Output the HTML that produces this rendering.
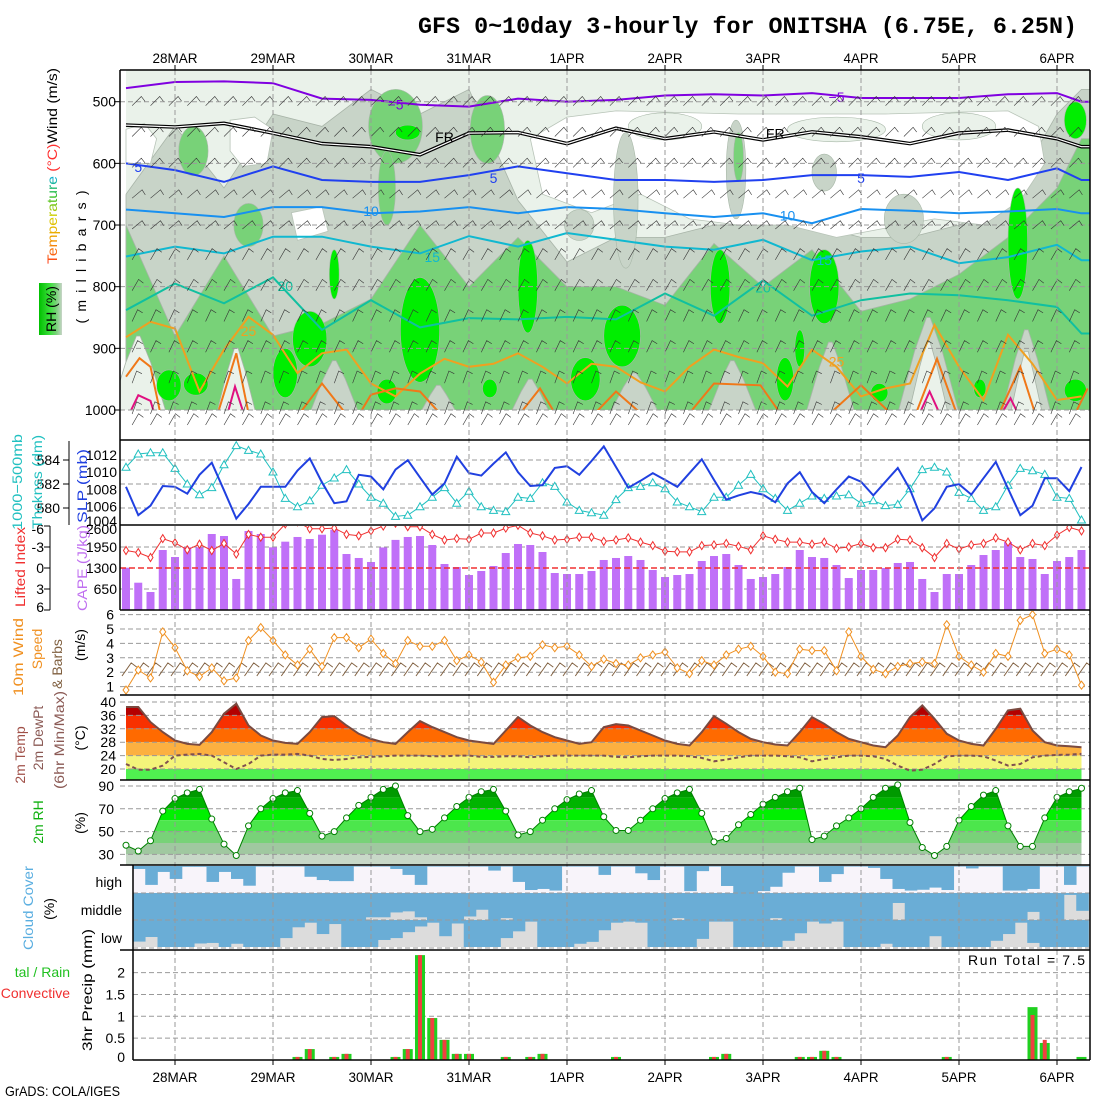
<!DOCTYPE html>
<html><head><meta charset="utf-8"><title>GFS meteogram ONITSHA</title>
<style>
html,body{margin:0;padding:0;background:#fff;}
svg{display:block;}
.t{font-family:"Liberation Sans",sans-serif;font-size:14px;}
.mono{font-family:"Liberation Mono",monospace;}
</style></head>
<body>
<svg id="chart" width="1100" height="1100" viewBox="0 0 1100 1100" xmlns="http://www.w3.org/2000/svg">
<defs>
<linearGradient id="tempGrad" gradientUnits="userSpaceOnUse" x1="-98" y1="0" x2="-12" y2="0">
<stop offset="0" stop-color="#ff4020"/><stop offset="0.3" stop-color="#f0a000"/><stop offset="0.55" stop-color="#d8d000"/><stop offset="0.8" stop-color="#30c030"/><stop offset="1" stop-color="#10b0d0"/>
</linearGradient>
<linearGradient id="rhGrad" x1="0" y1="0" x2="1" y2="0">
<stop offset="0" stop-color="#00c000"/><stop offset="0.5" stop-color="#40e040"/><stop offset="0.75" stop-color="#78d278"/><stop offset="1" stop-color="#c8d4c8"/>
</linearGradient>
<clipPath id="topClip"><rect x="120" y="70" width="970" height="340"/></clipPath>
<clipPath id="p2Clip"><rect x="120" y="441" width="970" height="84"/></clipPath>
<clipPath id="p3Clip"><rect x="120" y="526" width="970" height="84"/></clipPath>
<clipPath id="p4Clip"><rect x="120" y="611" width="970" height="84"/></clipPath>
</defs>
<rect x="0" y="0" width="1100" height="1100" fill="#fff"/>

<text class="mono" x="418" y="33" font-size="23" font-weight="bold" textLength="659" lengthAdjust="spacingAndGlyphs">GFS 0~10day 3-hourly for ONITSHA (6.75E, 6.25N)</text>

<g id="topPanel"></g>
<g id="panels"></g>

<g>
<text class="t" transform="translate(57,166) rotate(-90)" text-anchor="middle" font-size="15" textLength="196" lengthAdjust="spacingAndGlyphs"><tspan fill="url(#tempGrad)">Temperature</tspan><tspan fill="#ff3030"> (°C)</tspan><tspan fill="#000">Wind (m/s)</tspan></text>
<rect x="39" y="283" width="23" height="52" fill="url(#rhGrad)"/>
<text class="t" transform="translate(56,309) rotate(-90)" text-anchor="middle" font-size="14">RH (%)</text>
<text class="t" transform="translate(86,257) rotate(-90)" text-anchor="middle" font-size="15" textLength="133" lengthAdjust="spacing">(millibars)</text>
</g>
<g>
<text class="t" transform="translate(22,482) rotate(-90)" text-anchor="middle" fill="#20c0c0" font-size="15" textLength="96" lengthAdjust="spacingAndGlyphs">1000−500mb</text>
<text class="t" transform="translate(42,482) rotate(-90)" text-anchor="middle" fill="#20c0c0" font-size="15" textLength="94" lengthAdjust="spacingAndGlyphs">Thcknss (dm)</text>
<text class="t" transform="translate(87,486) rotate(-90)" text-anchor="middle" fill="#2040e0" font-size="15" textLength="74" lengthAdjust="spacingAndGlyphs">SLP (mb)</text>
<text class="t" transform="translate(25,567) rotate(-90)" text-anchor="middle" fill="#f03030" font-size="15" textLength="80" lengthAdjust="spacingAndGlyphs">Lifted Index</text>
<text class="t" transform="translate(87,568) rotate(-90)" text-anchor="middle" fill="#c070f0" font-size="15" textLength="86" lengthAdjust="spacingAndGlyphs">CAPE (J/kg)</text>
<text class="t" transform="translate(23,657) rotate(-90)" text-anchor="middle" fill="#f09020" font-size="15" textLength="78" lengthAdjust="spacingAndGlyphs">10m Wind</text>
<text class="t" transform="translate(42,649) rotate(-90)" text-anchor="middle" fill="#f09020" font-size="15">Speed</text>
<text class="t" transform="translate(62,664) rotate(-90)" text-anchor="middle" fill="#806040" font-size="15">&amp; Barbs</text>
<text class="t" transform="translate(85,645) rotate(-90)" text-anchor="middle" fill="#000" font-size="15">(m/s)</text>
<text class="t" transform="translate(25,755) rotate(-90)" text-anchor="middle" fill="#a05048" font-size="15">2m Temp</text>
<text class="t" transform="translate(43,738) rotate(-90)" text-anchor="middle" fill="#8b5a55" font-size="15">2m DewPt</text>
<text class="t" transform="translate(64,740) rotate(-90)" text-anchor="middle" fill="#8b5a55" font-size="15" textLength="98" lengthAdjust="spacingAndGlyphs">(6hr Min/Max)</text>
<text class="t" transform="translate(85,738) rotate(-90)" text-anchor="middle" fill="#000" font-size="15">(°C)</text>
<text class="t" transform="translate(43,822) rotate(-90)" text-anchor="middle" fill="#10b010" font-size="15">2m RH</text>
<text class="t" transform="translate(85,823) rotate(-90)" text-anchor="middle" fill="#000" font-size="15">(%)</text>
<text class="t" transform="translate(33,908) rotate(-90)" text-anchor="middle" fill="#5aaee0" font-size="15" textLength="84" lengthAdjust="spacingAndGlyphs">Cloud Cover</text>
<text class="t" transform="translate(54,909) rotate(-90)" text-anchor="middle" fill="#000" font-size="15">(%)</text>
<text class="t" x="122" y="887" text-anchor="end" font-size="15">high</text>
<text class="t" x="122" y="915" text-anchor="end" font-size="15">middle</text>
<text class="t" x="122" y="943" text-anchor="end" font-size="15">low</text>
<text class="t" x="70" y="977" text-anchor="end" fill="#20c020" font-size="15">tal / Rain</text>
<text class="t" x="70" y="998" text-anchor="end" fill="#f03030" font-size="15">Convective</text>
<text class="t" transform="translate(92,990) rotate(-90)" text-anchor="middle" fill="#000" font-size="15" textLength="122" lengthAdjust="spacingAndGlyphs">3hr Precip (mm)</text>
<text class="t" x="1085" y="965" text-anchor="end" font-size="14" textLength="117" lengthAdjust="spacing">Run Total = 7.5</text>
<text class="t" x="5" y="1096" font-size="13" textLength="115" lengthAdjust="spacingAndGlyphs">GrADS: COLA/IGES</text>
</g>
</svg>

<script>
// ---------- DATA ----------
const dayLabels=["28MAR","29MAR","30MAR","31MAR","1APR","2APR","3APR","4APR","5APR","6APR"];
const dayIndex=[4,12,20,28,36,44,52,60,68,76];
const slp=[1008.3,1005,1006.1,1008.4,1008.3,1007.5,1009.7,1011.1,1007.9,1004.6,1006.3,1008.3,1008.3,1008.3,1010.2,1011.6,1008.8,1006.4,1006.6,1009.7,1009.5,1008,1010.3,1011.4,1009.4,1007.4,1008.7,1011.8,1009.9,1009.6,1011,1012.3,1010,1008.4,1008.5,1010.5,1010.7,1009.7,1011.3,1013,1010.6,1008.2,1009,1009.9,1009.1,1008.3,1009.9,1011.5,1009.1,1006.8,1007.3,1007.7,1007.4,1006.5,1008.7,1010,1007.7,1006.4,1008,1009.5,1008.9,1007.3,1008.9,1010.5,1008,1004.4,1005.8,1008.3,1008.6,1007.4,1009.3,1011.2,1008.1,1005,1006.1,1009.3,1009.3,1007.8,1010.6];
const thickness=[583.4,584.5,584.6,584.6,583.3,582,581.1,581.7,583.6,585.2,584.8,584.5,583,580.8,580.1,580.6,581.9,582.5,583.2,582,580.9,580.4,579.3,579.4,580.1,580.9,581.7,580.4,581.4,580.1,579.8,579.7,580.9,580.8,582.1,581.8,580.5,579.8,579.6,579.4,580.7,581.7,581.8,582.1,581.6,580.5,580.1,579.7,580.9,580.9,581.9,582.8,581.6,580.8,579.8,580.4,581,580.8,581,581.1,580.4,580.6,580.2,580.3,581.6,583.2,583.4,583,581.3,580.8,579.8,580.1,581.9,583.3,583.1,582.8,580.9,580.8,579];
const cape=[1309,845,557,1857,1640,1940,1940,2352,2290,960,2445,2352,1940,2115,2260,2198,2331,2486,1733,1610,1486,1935,2170,2260,2290,2012,1424,1331,1083,1207,1362,1764,2043,2012,1795,1145,1114,1114,1207,1548,1610,1671,1548,1238,1021,1083,1114,1517,1671,1733,1393,960,1021,1114,1331,1857,1640,1610,1393,990,1238,1238,1300,1455,1486,960,557,1114,1114,1393,1702,1857,2105,1640,1579,1114,1517,1640,1857];
const liftedIndex=[-2.5,-2.2,-1.5,-4.2,-3.6,-2.6,-3.4,-2.5,-3.5,-2,-4.8,-4.4,-4.4,-6.3,-6.6,-5.6,-5.6,-5.7,-4.8,-4.6,-5.3,-6,-6.4,-5.9,-5.9,-4.8,-4,-4.2,-4.1,-5,-5,-5.7,-6.1,-5,-4.6,-4,-4.1,-4.4,-4.4,-3.8,-4,-4.3,-3.7,-3.2,-2.4,-2.3,-2.3,-3.2,-3.3,-3.5,-3.1,-2.6,-4.6,-4.1,-3.7,-3.7,-3.4,-3.7,-2.8,-3,-3.5,-2.9,-2.9,-4.1,-4,-2.9,-1.5,-3.5,-2.7,-3.3,-3.5,-4.3,-3.7,-2.6,-3.5,-3.2,-4.7,-5.8,-5.3];
const windSpeed=[0.76,2.15,1.6,4.8,3.7,2.1,1.7,2.3,1.4,1.6,4.2,5.1,4.2,3.2,2.5,3.6,2.4,4.4,4.4,3.7,4.3,3.3,2.6,4.2,3.8,3.8,4.2,2.8,3.2,2.7,1.3,2.5,3,3.1,3.9,3.7,3.8,3.2,2.4,2.9,2.6,2.5,3,3.2,3.4,2.3,1.9,2.8,2.5,3.2,3.6,3.8,3.1,2,1.9,3.6,3.5,3.5,2.1,4.8,3.1,2.2,1.9,2.4,2.6,2.7,2.6,5.3,3.1,2.5,2,3.3,3.1,5.6,6,3.3,3.6,3.2,1.1];
const temp2m=[38.5,38.5,34,31,28.5,27.5,27.2,31,36.5,39.5,33,30,28.5,27.8,27.5,31,35.5,35.8,33,30.5,29,28,27.5,31,34.3,32.5,31,29.5,28.5,28,27.5,31.5,35.5,33,31,29.5,28.5,27.5,28,32.5,33.4,33,31.5,30,28.5,27.5,27,31,35.8,33.5,31,29,28,27.3,27,31,35.5,33.5,31,29,28,27,26.5,30,35.5,39,35,30.5,28.5,27.5,27,32,37.5,38,31.5,28,27,26.8,26.5];
const dewpt2m=[21.5,19.8,19.8,21,24,24.3,24.5,24,22,20,21.5,24,24.3,24.3,24.5,24,23,22.7,23,23.5,23.6,23.8,24,24,24,23.8,23.8,24,24,23.6,23.6,23.8,23.8,23.5,23.8,24,24,24,24,24,23.6,23.5,23.8,24,24,24,23.8,23.3,22.3,22.8,23.5,24,24,24,23.8,23.5,22.3,23,23.5,24,24,23.8,23,21,19.5,19.8,21.5,23.8,24,24,23.8,22.5,21,21.5,23.5,24,24.2,24.3,24.5];
const rh2m=[38,33,42,68,79,84,87,61,39,29,55,70,79,84,86,66,46,50,62,73,80,87,90,64,50,52,62,72,80,85,87,68,47,50,60,70,78,83,86,63,51,51,60,70,79,84,87,66,41,44,56,65,74,80,85,88,43,46,55,62,70,80,88,91,58,36,29,37,60,72,82,86,55,37,37,62,80,85,88];
const cloudHigh=[11,70,22,48,3,3,59,22,48,73,2,2,2,2,40,52,56,56,2,2,2,11,33,70,2,2,2,2,2,17,2,59,89,85,91,2,2,2,33,2,2,27,52,2,2,93,19,2,74,100,100,93,77,25,2,2,59,30,2,2,7,48,85,91,88,80,89,2,9,2,2,91,91,85,2,2,70,2];
const cloudMid=[100,100,100,100,100,100,100,100,100,100,100,100,100,100,100,100,100,100,100,90,90,72,68,90,100,100,100,87,62,100,93,100,100,100,100,100,100,100,100,100,100,100,100,100,93,100,100,100,100,100,100,100,93,100,100,100,100,100,100,100,100,100,37,100,100,100,100,100,100,100,100,100,100,70,100,100,7,66];
const cloudLow=[80,63,100,100,100,87,85,100,88,100,100,100,67,27,10,52,15,100,100,100,74,67,45,24,10,60,13,100,100,100,67,42,6,100,100,100,88,81,38,10,6,10,100,100,100,100,70,6,6,100,100,100,100,77,49,6,13,6,100,100,100,88,100,100,100,60,100,100,100,100,77,52,10,85,100,100,100,100];
const precipTotal=[0,0,0,0,0,0,0,0,0,0,0,0,0,0,0.07,0.25,0,0.07,0.14,0,0,0,0.07,0.25,2.4,0.96,0.46,0.14,0.14,0,0,0.07,0,0.07,0.14,0,0,0,0,0,0.07,0,0,0,0,0,0,0,0.07,0.14,0,0,0,0,0,0.07,0.07,0.21,0.07,0,0,0,0,0,0,0,0,0.07,0,0,0,0,0,0,1.21,0.39,0,0,0.07];
const precipConv=[0,0,0,0,0,0,0,0,0,0,0,0,0,0,0.07,0.25,0,0.07,0.14,0,0,0,0.07,0.25,2.4,0.96,0.46,0.14,0.14,0,0,0.07,0,0.07,0.14,0,0,0,0,0,0.07,0,0,0,0,0,0,0,0.07,0.14,0,0,0,0,0,0.07,0.07,0.21,0.07,0,0,0,0,0,0,0,0,0.07,0,0,0,0,0,0,1.03,0.46,0,0,0];
const sampleTimes=[0,4,8,12,16,20,24,28,32,36,40,44,48,52,56,60,64,68,72,76,78];
const grayTop=[650,540,640,520,540,480,520,480,660,760,720,720,700,700,700,720,720,700,660,520,480];
const greenTop=[700,880,750,880,860,820,700,800,720,800,800,830,730,800,740,840,820,780,720,640,560];
const isoM5=[478,468,467,470,495,497,505,508,495,500,497,490,488,490,486,494,494,494,488,486,500];
const isoFR=[538,541,535,551,568,573,586,551,550,568,543,560,549,562,549,557,568,551,546,560,573];
const iso5=[600,611,630,605,627,630,630,619,605,616,627,627,630,627,619,619,622,614,627,608,627];
const iso10=[675,681,687,671,671,681,678,671,681,671,674,681,687,681,697,674,677,681,678,674,681];
const iso15=[751,735,746,719,719,735,746,718,735,713,724,735,740,724,757,743,735,762,752,732,757];
const iso20=[838,795,827,785,870,822,866,851,853,849,853,811,847,790,847,822,811,814,822,833,876];
const iso25=[882,857,868,970,902,849,878,940,908,902,957,978,941,917,930,925,908,930,957,925,930,955,970,930,902,914,924,962,902,930,978,965,957,862,930,984,878,925,984,978];
const iso30Segments=[[[0,946],[1.1,916],[2,930],[2.8,1005]],[[7.5,1005],[9,908],[10,1005]],[[14.2,1005],[16,957],[17.9,1005]],[[19.1,1005],[20,975],[22,965],[24,970],[25.6,1005]],[[32.2,1005],[33.8,965],[35,1005]],[[38.3,1005],[40,970],[42,1005]],[[46,1005],[48,957],[51.8,960],[53.4,1005]],[[57.5,1005],[60,960],[62.4,1005]],[[64.5,1005],[66.2,917],[67.8,1005]],[[71.3,1005],[73,930],[74.2,1005]],[[77.5,1005],[78.5,965]]];
const iso35Segments=[[[0.3,1005],[1,976],[2,985],[2.3,1005]],[[8.3,1005],[8.9,962],[9.6,1005]],[[64.8,1005],[65.6,970],[66.4,1005]],[[71.5,1005],[72.2,981],[72.8,1005]]];
const whiteAreas=[[[0,545],[1.5,535],[2.5,560],[2,600],[0,600]],[[8.5,530],[10.5,525],[12,545],[11.5,600],[9.5,605],[8.5,580]],[[13.5,680],[16,670],[16.5,710],[14,725]],[[33,560],[36,525],[40,515],[50,520],[62,520],[72,515],[74.5,540],[75,600],[73,660],[70,700],[66,690],[62,705],[58,720],[54,700],[50,700],[46,690],[42,650],[38,680],[34,650]]];
const lightBlobs=[[44,540,3,22],[58,545,4,20],[68,540,3,22]];
const grayBlobs=[[40.8,660,1.0,110],[49.8,610,0.8,80],[57,615,1,30],[63.5,690,1.6,40],[37,700,1.2,25]];
const greenBlobs=[[5.5,580,1.2,40],[10,700,1.2,35],[22,540,2.2,60],[21.3,640,0.7,60],[29.5,545,1.4,55],[50,590,0.4,40]];
const brightBlobs=[[3.5,960,1,25],[5.7,958,1,18],[13,940,1,40],[15,885,1.4,45],[17,780,0.4,40],[21.3,970,0.8,20],[24,870,1.6,85],[23,550,1,12],[29.7,965,0.6,15],[32.8,800,0.8,75],[37.5,950,1.2,35],[40.5,880,1.5,50],[48.5,800,0.8,60],[53.8,950,0.7,35],[55,900,0.4,30],[57,800,1.2,60],[61.5,972,0.7,15],[69.7,965,0.5,15],[72.8,730,0.8,90],[77.5,530,0.9,30],[77.5,968,0.9,18]];
const surfaceGaps=[[1,880,2.3,"#eaf2ea"],[9,900,1.6,"#eaf2ea"],[17,920,2,"#c8d4c8"],[25.5,960,1.5,"#c8d4c8"],[33,950,1.6,"#c8d4c8"],[41.5,940,2,"#c8d4c8"],[49.5,920,2,"#c8d4c8"],[57.5,890,2,"#c8d4c8"],[65.5,850,2.5,"#c8d4c8"],[65.5,890,1.6,"#eaf2ea"],[73.5,870,2,"#c8d4c8"],[73.5,905,1.3,"#eaf2ea"]];
const pressureTicks=[500,600,700,800,900,1000];
const barbLevels=[500,550,600,650,700,750,800,850,900,950,1000,1020];
const barbDirs=[45,45,45,50,50,30,30,25,25,20,20,30];
const slpTicks=[1012,1010,1008,1006,1004];
const thickTicks=[584,582,580];
const liTicks=[-6,-3,0,3,6];
const capeTicks=[2600,1950,1300,650];
const windTicks=[6,5,4,3,2,1];
const tempTicks=[40,36,32,28,24,20];
const rhTicks=[90,70,50,30];
const precipTicks=[2,1.5,1,0.5,0];
const precipTickLabels=["2","1.5","1","0.5","0"];

// ---------- AXES ----------
const NS="http://www.w3.org/2000/svg";
const svgRoot=document.getElementById("chart");
const topG=document.getElementById("topPanel");
const pan=document.getElementById("panels");
function el(tag,attrs,parent){const e=document.createElementNS(NS,tag);for(const k in attrs)e.setAttribute(k,attrs[k]);(parent||svgRoot).appendChild(e);return e;}
const X0=126,DX=12.25,XL=120,XR=1090;
const xT=i=>X0+DX*i;
const yP=p=>101.7+(p-500)*0.6166;
const ySlp=v=>455+(1012-v)*8.6;
const yTh=v=>484-(v-582)*12;
const yLI=v=>568+v*7;
const yCape=v=>610-v*84/2600;
const yWind=v=>701-v*14.4;
const yTemp=v=>702+(40-v)*3.35;
const yRH=v=>786+(90-v)*1.14;
const yPr=v=>1060-v*43.7;
const CL=133;
const xBar=k=>CL+DX*k;

// ---------- TOP PANEL ----------
const tg=el("g",{"clip-path":"url(#topClip)"},topG);
const base=el("rect",{x:X0,y:70,width:XR-X0,height:yP(1000)-70,fill:"#eaf2ea"},tg);


function polyPts(list){return list.map(q=>xT(q[0]).toFixed(1)+","+yP(q[1]).toFixed(1)).join(" ");}
function ell(b,color,parent,name){
  const e=el("ellipse",{cx:xT(b[0]),cy:yP(b[1]),rx:b[2]*DX,ry:b[3]*0.6166,fill:color,stroke:"#a8b8a8","stroke-width":0.6},parent);
  
  
}
function areaTop(tops,color,name){
  let d="M"+X0+","+yP(1000)+" L"+X0+","+yP(tops[0]);
  sampleTimes.forEach((t,k)=>{d+=" L"+xT(t).toFixed(1)+","+yP(tops[k]).toFixed(1);});
  d+=" L"+XR+","+yP(tops[tops.length-1]).toFixed(1)+" L"+XR+","+yP(1000)+" Z";
  const p=el("path",{d:d,fill:color,stroke:"#a8b4a8","stroke-width":0.8},tg);
  
  
}
areaTop(grayTop,"#c8d4c8","rh-50-70-region");
whiteAreas.forEach(a=>{
  const p=el("polygon",{points:polyPts(a),fill:"#ffffff",stroke:"#b8c4b8","stroke-width":0.8},tg);
  
  
});
lightBlobs.forEach(b=>ell(b,"#eaf2ea",tg,"rh-moist-patch"));
grayBlobs.forEach(b=>ell(b,"#c8d4c8",tg,"rh-50-patch"));
areaTop(greenTop,"#78d278","rh-70-90-region");
greenBlobs.forEach(b=>ell(b,"#78d278",tg,"rh-70-patch"));
surfaceGaps.forEach(g=>{
  const c=g[0],tp=g[1],h=g[2],b=1005;
  const pts=[[c-h,b],[c-h*0.45,tp+(b-tp)*0.35],[c-0.15,tp],[c+0.15,tp],[c+h*0.45,tp+(b-tp)*0.35],[c+h,b]];
  const p=el("polygon",{points:polyPts(pts),fill:g[3],stroke:"#a8b4a8","stroke-width":0.8},tg);
  
  
});
brightBlobs.forEach(b=>ell(b,"#00ee00",tg,"rh-90-patch"));
pressureTicks.forEach(p=>{
  const l=el("line",{x1:XL,x2:XR,y1:yP(p),y2:yP(p),stroke:"#999","stroke-dasharray":"5,3","stroke-width":1},topG);
  
  
  const t=el("text",{x:116,y:yP(p)+5,"text-anchor":"end",class:"t","font-size":14},topG);
  t.textContent=String(p);
  
  
  const tk=el("line",{x1:114,x2:XL,y1:yP(p),y2:yP(p),stroke:"#000"},topG);
  
  
});
function isoLine(vals,color,w,name){
  let d="M"+X0+","+yP(vals[0]).toFixed(1);
  sampleTimes.forEach((t,k)=>{d+=" L"+xT(t).toFixed(1)+","+yP(vals[k]).toFixed(1);});
  d+=" L"+XR+","+yP(vals[vals.length-1]).toFixed(1);
  const p=el("path",{d:d,fill:"none",stroke:color,"stroke-width":w},tg);
  
  
  return d;
}
isoLine(isoM5,"#8000e0",2,"isotherm-minus5");
const frD=isoLine(isoFR,"#000",3.6,"isotherm-freezing");
const frW=el("path",{d:frD,fill:"none",stroke:"#fff","stroke-width":1.2},tg);


isoLine(iso5,"#2040f0",2,"isotherm-5");
isoLine(iso10,"#1890f0",2,"isotherm-10");
isoLine(iso15,"#10b8d0",2,"isotherm-15");
isoLine(iso20,"#10c0a0",2,"isotherm-20");
(function(){
  let d="";
  iso25.forEach((v,k)=>{d+=(k?" L":"M")+xT(k*2).toFixed(1)+","+yP(v).toFixed(1);});
  const p=el("path",{d:d,fill:"none",stroke:"#f0a020","stroke-width":2},tg);
  
  
})();
function segLines(segs,color,name){
  segs.forEach(s=>{
    const d="M"+s.map(q=>xT(q[0]).toFixed(1)+","+yP(q[1]).toFixed(1)).join(" L");
    const p=el("path",{d:d,fill:"none",stroke:color,"stroke-width":2},tg);
    
    
  });
}
segLines(iso30Segments,"#f07818","isotherm-30");
segLines(iso35Segments,"#e01080","isotherm-35");
[["−5",22,503,"#8000e0"],["−5",58,491,"#8000e0"],["FR",26,556,"#000"],["FR",53,550,"#000"],["5",1,604,"#2040f0"],["5",30,622,"#2040f0"],["5",60,622,"#2040f0"],["10",20,676,"#1890f0"],["10",54,683,"#1890f0"],["15",25,750,"#10b8d0"],["15",57,755,"#10b8d0"],["20",13,797,"#10c0a0"],["20",52,800,"#10c0a0"],["25",10,870,"#f0a020"],["25",58,920,"#f0a020"]].forEach(L=>{
  const t=el("text",{x:xT(L[1]),y:yP(L[2])+6,class:"t","font-size":17,fill:L[3],"text-anchor":"middle"},tg);
  t.textContent=L[0];
  
  
});
(function(){
  let d="";
  for(let j=0;j<barbLevels.length;j++){
    const y=barbLevels[j]>1000?425:yP(barbLevels[j])+4;
    const a=barbDirs[j]*Math.PI/180, ux=Math.sin(a), uy=-Math.cos(a);
    const th=Math.atan2(uy,ux);
    for(let i=0.5;i<=78;i+=1.5){
      const x=xT(i), ex=x+13*ux, ey=y+13*uy;
      d+="M"+x.toFixed(1)+","+y.toFixed(1)+"L"+ex.toFixed(1)+","+ey.toFixed(1)+"L"+(ex+6*Math.cos(th+1.7)).toFixed(1)+","+(ey+6*Math.sin(th+1.7)).toFixed(1);
    }
  }
  const p=el("path",{d:d,fill:"none",stroke:"#333","stroke-width":0.6},topG);
  
  
})();

// ---------- DAY GRID ----------
dayIndex.forEach((di,k)=>{
  const x=xT(di);
  const v=el("line",{x1:x,x2:x,y1:70,y2:1060,stroke:"#999","stroke-dasharray":"5,3"},svgRoot);
  
  
  const t1=el("text",{x:x,y:63,class:"t","font-size":15,"text-anchor":"middle",textLength:dayLabels[k].length>4?45:35,lengthAdjust:"spacingAndGlyphs"},svgRoot);
  t1.textContent=dayLabels[k];
  
  
  const t2=el("text",{x:x,y:1082,class:"t","font-size":15,"text-anchor":"middle",textLength:dayLabels[k].length>4?45:35,lengthAdjust:"spacingAndGlyphs"},svgRoot);
  t2.textContent=dayLabels[k];
  
  
  const tk=el("line",{x1:x,x2:x,y1:65,y2:70,stroke:"#000"},svgRoot);
  
  
  const tb=el("line",{x1:x,x2:x,y1:1060,y2:1065,stroke:"#000"},svgRoot);
  
  
});

function hgrid(y,x1,name){
  const l=el("line",{x1:x1||XL,x2:XR,y1:y,y2:y,stroke:"#999","stroke-dasharray":"5,3"},pan);
  
  
}
function label(x,y,txt,name,color,anchor){
  const t=el("text",{x:x,y:y+5,class:"t","font-size":14,"text-anchor":anchor||"end",fill:color||"#000"},pan);
  t.textContent=txt;
  
  
}

// ---------- PANEL 2 ----------
thickTicks.forEach(v=>{hgrid(yTh(v),null,"thickness-gridline");label(60,yTh(v),String(v),"thickness-tick-label");
  const tk=el("line",{x1:63,x2:69,y1:yTh(v),y2:yTh(v),stroke:"#000"},pan);
  
  });
const thAxis=el("line",{x1:69,x2:69,y1:441,y2:525,stroke:"#000"},pan);


slpTicks.forEach(v=>label(117,ySlp(v)-(v===1004?3:0),String(v),"slp-tick-label"));
const g2=el("g",{"clip-path":"url(#p2Clip)"},pan);
(function(){
  const dT="M"+thickness.map((v,i)=>xT(i).toFixed(1)+","+yTh(v).toFixed(1)).join(" L");
  const pt=el("path",{d:dT,fill:"none",stroke:"#20c0c0","stroke-width":1},g2);
  
  
  thickness.forEach((v,i)=>{
    const x=xT(i),y=yTh(v);
    const m=el("polygon",{points:`${x},${y-4} ${x-4},${y+3} ${x+4},${y+3}`,fill:"#fff",stroke:"#20c0c0","stroke-width":1},g2);
    
    
  });
  const dS="M"+slp.map((v,i)=>xT(i).toFixed(1)+","+ySlp(v).toFixed(1)).join(" L");
  const ps=el("path",{d:dS,fill:"none",stroke:"#2040e0","stroke-width":2},g2);
  
  
})();

// ---------- PANEL 3 ----------
liTicks.forEach(v=>{label(44,yLI(v)+(v===-6?3:(v===6?-3:0)),String(v),"li-tick-label");
  const tk=el("line",{x1:44,x2:50,y1:yLI(v),y2:yLI(v),stroke:"#000"},pan);
  
  });
const liAxis=el("line",{x1:50,x2:50,y1:526,y2:610,stroke:"#000"},pan);


capeTicks.forEach(v=>label(117,yCape(v)+(v===2600?3:0),String(v),"cape-tick-label"));
hgrid(yLI(-3),null,"li-gridline");hgrid(yLI(3),null,"li-gridline");
const g3=el("g",{"clip-path":"url(#p3Clip)"},pan);
cape.forEach((v,i)=>{
  const r=el("rect",{x:xT(i)-4,y:yCape(v),width:8,height:610-yCape(v),fill:"#c070f8"},g3);
  
  
});
const zl=el("line",{x1:XL,x2:XR,y1:yLI(0),y2:yLI(0),stroke:"#f03030","stroke-dasharray":"6,3","stroke-width":1.5},g3);


(function(){
  const d="M"+liftedIndex.map((v,i)=>xT(i).toFixed(1)+","+yLI(v).toFixed(1)).join(" L");
  const p=el("path",{d:d,fill:"none",stroke:"#f03030","stroke-width":1},g3);
  
  
  liftedIndex.forEach((v,i)=>{
    const x=xT(i),y=yLI(v);
    const m=el("polygon",{points:`${x},${y-4} ${x-2.5},${y} ${x},${y+4} ${x+2.5},${y}`,fill:"#fff",stroke:"#f03030"},g3);
    
    
  });
})();

// ---------- PANEL 4 ----------
windTicks.forEach(v=>{hgrid(yWind(v),null,"wind-gridline");label(114,yWind(v),String(v),"wind-tick-label");});
const g4=el("g",{"clip-path":"url(#p4Clip)"},pan);
(function(){
  let d="";
  const a=35*Math.PI/180, ux=Math.sin(a), uy=-Math.cos(a), th=Math.atan2(uy,ux);
  windSpeed.forEach((v,i)=>{
    const x=xT(i)-4, y=676, ex=x+16*ux, ey=y+16*uy;
    d+="M"+x.toFixed(1)+","+y+"L"+ex.toFixed(1)+","+ey.toFixed(1)+"L"+(ex+7*Math.cos(th+1.6)).toFixed(1)+","+(ey+7*Math.sin(th+1.6)).toFixed(1);
  });
  const b=el("path",{d:d,fill:"none",stroke:"#806040","stroke-width":1},g4);
  
  
  const dl="M"+windSpeed.map((v,i)=>xT(i).toFixed(1)+","+yWind(v).toFixed(1)).join(" L");
  const p=el("path",{d:dl,fill:"none",stroke:"#f09020","stroke-width":1},g4);
  
  
  windSpeed.forEach((v,i)=>{
    const x=xT(i),y=yWind(v);
    const m=el("polygon",{points:`${x},${y-4} ${x-3},${y} ${x},${y+4} ${x+3},${y}`,fill:"#fff",stroke:"#f09020"},g4);
    
    
  });
})();

// ---------- PANEL 5 ----------
(function(){
  const pts=temp2m.map((v,i)=>xT(i).toFixed(1)+","+yTemp(v).toFixed(1));
  const area="M"+xT(0)+",780 L"+pts.join(" L")+" L"+xT(78)+",780 Z";
  const defs=svgRoot.querySelector("defs");
  const cp=el("clipPath",{id:"tempClip"},defs);
  el("path",{d:area},cp);
  const g=el("g",{"clip-path":"url(#tempClip)"},pan);
  const bands=[[45,36,"#b40000"],[36,32,"#f83000"],[32,28,"#ff6a00"],[28,24,"#fcb040"],[24,20,"#f4f47a"],[20,10,"#50f050"]];
  bands.forEach(b=>{
    const r=el("rect",{x:X0,y:yTemp(b[0]),width:XR-X0,height:yTemp(b[1])-yTemp(b[0]),fill:b[2]},g);
    
    
  });
  tempTicks.forEach(v=>{hgrid(yTemp(v),null,"temp-gridline");label(116,yTemp(v),String(v),"temp-tick-label");});
  const p=el("path",{d:"M"+pts.join(" L"),fill:"none",stroke:"#7a4a40","stroke-width":2},pan);
  
  
  const dd="M"+dewpt2m.map((v,i)=>xT(i).toFixed(1)+","+yTemp(v).toFixed(1)).join(" L");
  const q=el("path",{d:dd,fill:"none",stroke:"#805050","stroke-width":2,"stroke-dasharray":"4,3"},pan);
  
  
})();

// ---------- PANEL 6 ----------
(function(){
  const pts=rh2m.map((v,i)=>xT(i).toFixed(1)+","+yRH(v).toFixed(1));
  const area="M"+xT(0)+",865 L"+pts.join(" L")+" L"+xT(78)+",865 Z";
  const defs=svgRoot.querySelector("defs");
  const cp=el("clipPath",{id:"rhClip"},defs);
  el("path",{d:area},cp);
  const g=el("g",{"clip-path":"url(#rhClip)"},pan);
  const bands=[[100,80,"#009a00"],[80,70,"#00b400"],[70,60,"#00f000"],[60,50,"#4ce64c"],[50,40,"#78d278"],[40,30,"#a0c8a0"],[30,10,"#c8d8c8"]];
  bands.forEach(b=>{
    const r=el("rect",{x:X0,y:yRH(b[0]),width:XR-X0,height:yRH(b[1])-yRH(b[0]),fill:b[2]},g);
    
    
  });
  rhTicks.forEach(v=>{hgrid(yRH(v),null,"rh-gridline");label(114,yRH(v),String(v),"rh-tick-label");});
  const p=el("path",{d:"M"+pts.join(" L"),fill:"none",stroke:"#008000","stroke-width":1},pan);
  
  
  rh2m.forEach((v,i)=>{
    const c=el("circle",{cx:xT(i),cy:yRH(v),r:3,fill:"#fff",stroke:"#008000"},pan);
    
    
  });
})();

// ---------- PANEL 7 ----------
(function(){
  const bandsY=[[866,"#f8f4fa",cloudHigh,"cloud-high"],[893,"#dcdcdc",cloudMid,"cloud-mid"],[920,"#dcdcdc",cloudLow,"cloud-low"]];
  bandsY.forEach(b=>{
    const bg=el("rect",{x:CL,y:b[0],width:XR-CL,height:27,fill:b[1]},pan);
    
    
    b[2].forEach((v,k)=>{
      const r=el("rect",{x:xBar(k),y:b[0],width:DX+0.3,height:27*v/100,fill:"#6aadd6"},pan);
      
      
    });
  });
  [893,920,948].forEach(y=>hgrid(y,CL,"cloud-gridline"));
})();

// ---------- PANEL 8 ----------
precipTicks.forEach((v,k)=>{if(v>0)hgrid(yPr(v),CL,"precip-gridline");label(125,yPr(v)-(v===0?3:0),precipTickLabels[k],"precip-tick-label");});
precipTotal.forEach((v,i)=>{
  if(v<=0)return;
  const r=el("rect",{x:xT(i)-5,y:yPr(v),width:10,height:1060-yPr(v),fill:"#20d020"},pan);
  
  
});
precipConv.forEach((v,i)=>{
  if(v<=0)return;
  const r=el("rect",{x:xT(i)-2,y:yPr(v),width:4,height:1060-yPr(v),fill:"#f04040"},pan);
  
  
});

// ---------- FRAME LINES ----------
[[XL,70,XR,70],[XL,440,XR,440],[XL,525,XR,525],[XL,610,XR,610],[XL,695,XR,695],[XL,780,XR,780],[XL,865,XR,865],[XL,950,XR,950],[CL,1060,XR,1060],[XR,70,XR,1060],[XL,70,XL,610],[CL,865,CL,1060]].forEach(s=>{
  const l=el("line",{x1:s[0],y1:s[1],x2:s[2],y2:s[3],stroke:"#000","stroke-width":1.5},svgRoot);
  
  
});
</script>
</body></html>
